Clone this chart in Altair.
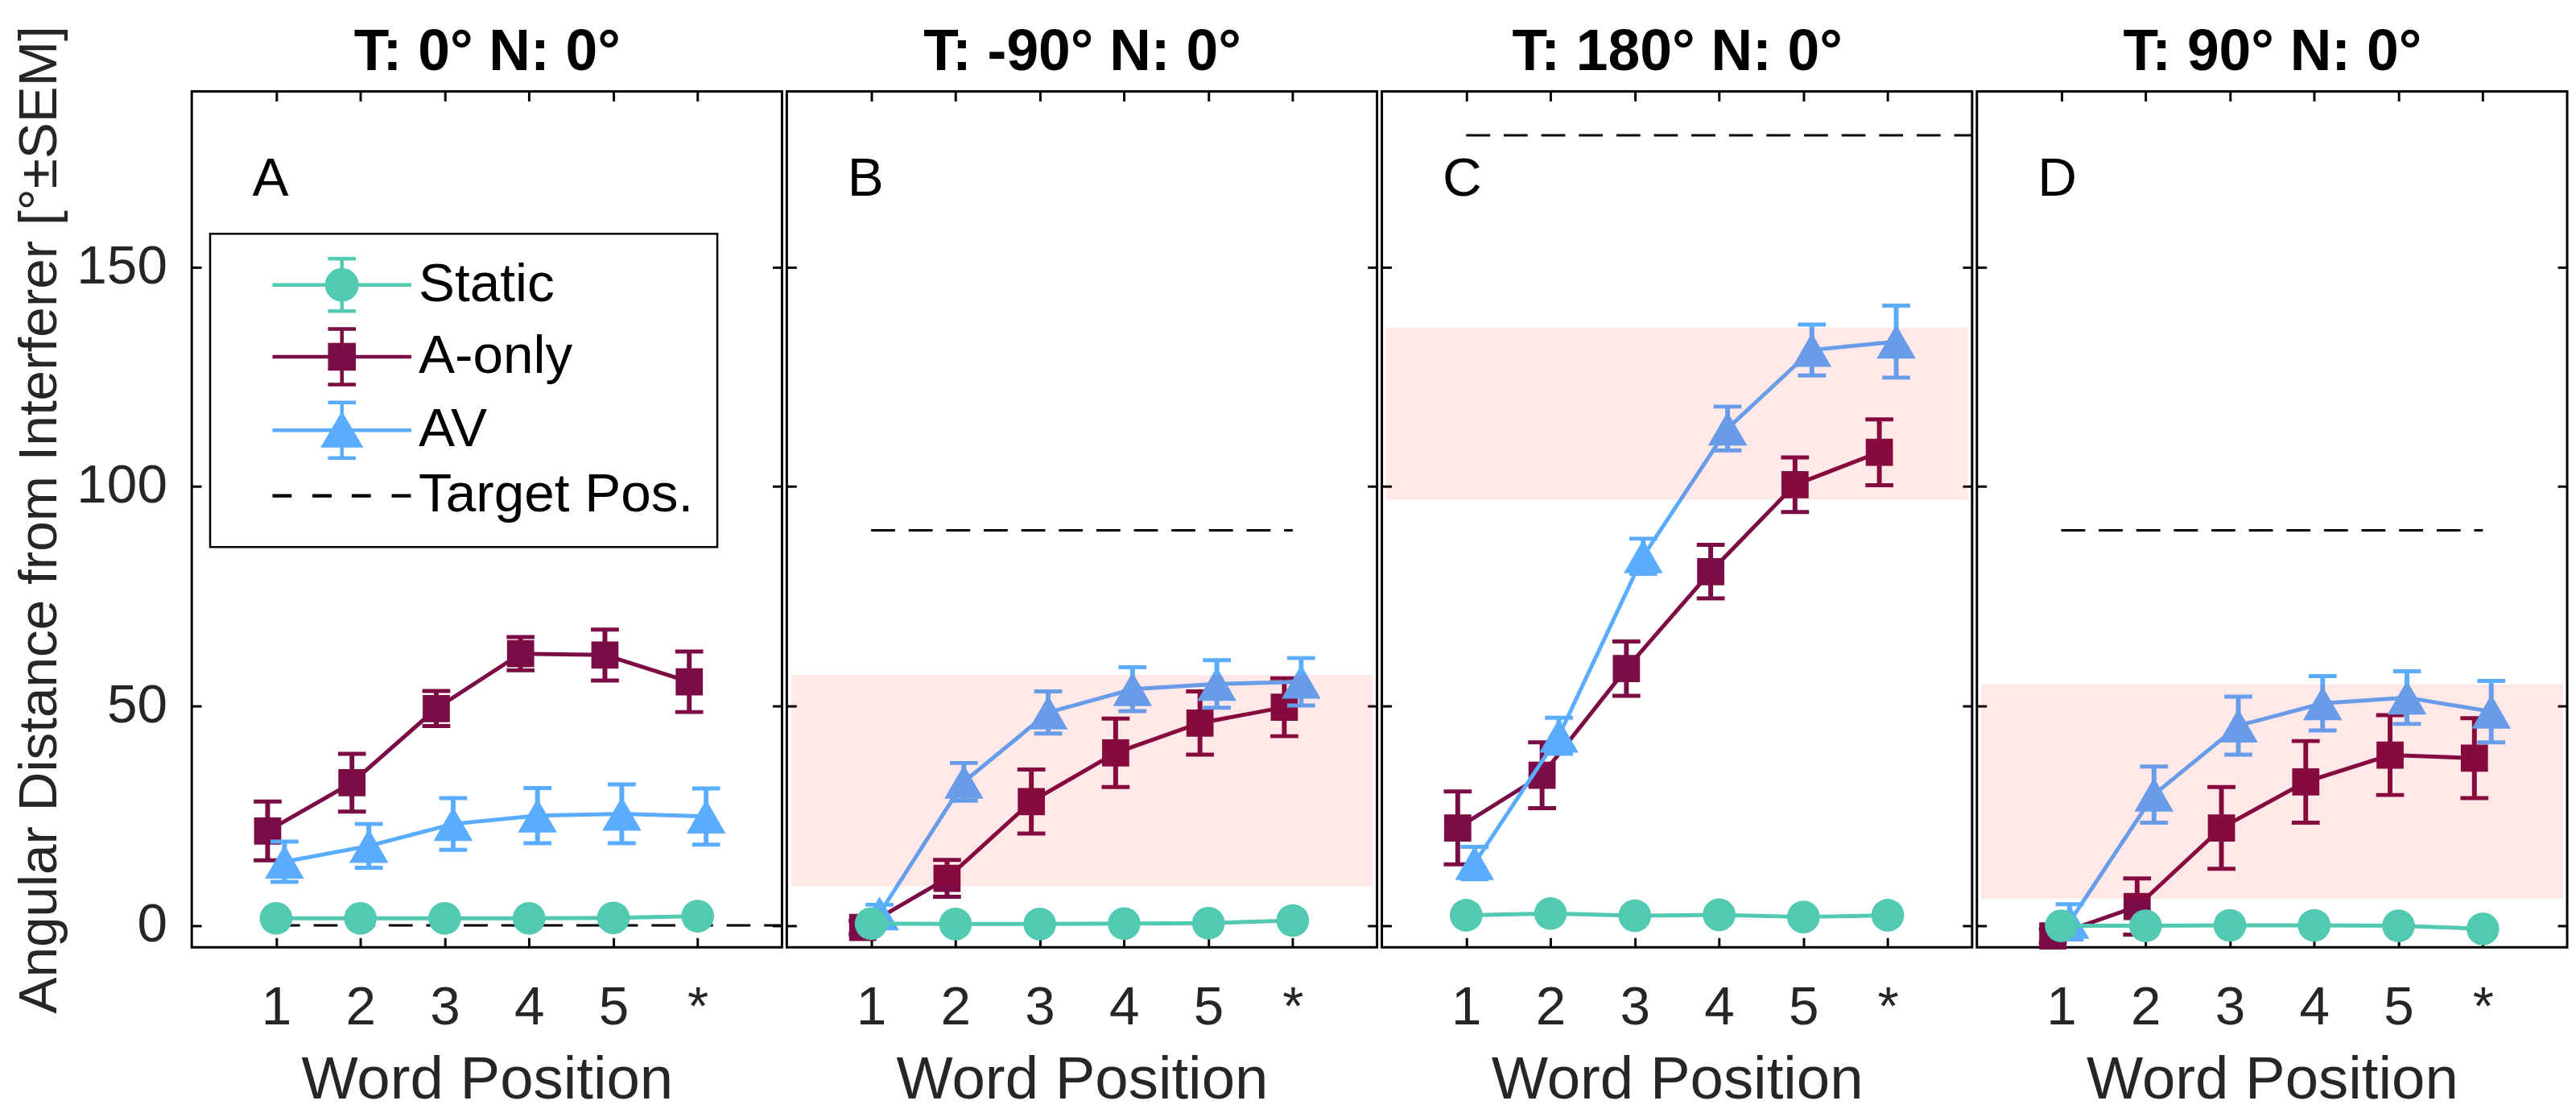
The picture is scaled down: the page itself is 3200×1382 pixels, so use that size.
import altair as alt
import pandas as pd

# DATA ------------------------------------------------------------------------
positions = [1, 2, 3, 4, 5, 6]
tick_labels = ["1", "2", "3", "4", "5", "*"]
panels = ["A", "B", "C", "D"]
panel_titles = ["T: 0° N: 0°", "T: -90° N: 0°", "T: 180° N: 0°", "T: 90° N: 0°"]
series_names = ["Static", "A-only", "AV"]
legend_names = ["Static", "A-only", "AV", "Target Pos."]

static_mean = {"A": [1.6, 1.6, 1.6, 1.6, 1.7, 2.1],
               "B": [0.4, 0.3, 0.3, 0.4, 0.5, 1.1],
               "C": [2.3, 2.7, 2.2, 2.4, 1.9, 2.3],
               "D": [-0.1, -0.1, 0.0, 0.0, -0.1, -0.8]}
static_sem = {"A": [0.8, 0.8, 0.8, 0.8, 0.8, 0.9],
              "B": [0.6, 0.6, 0.6, 0.6, 0.6, 0.8],
              "C": [0.8, 0.9, 0.8, 0.8, 0.8, 0.9],
              "D": [0.7, 0.7, 0.7, 0.7, 0.7, 0.9]}
aonly_mean = {"A": [21.5, 32.5, 49.4, 61.9, 61.6, 55.5],
              "B": [-0.5, 10.7, 28.2, 39.3, 46.1, 49.7],
              "C": [22.2, 34.2, 58.5, 80.6, 100.4, 107.8],
              "D": [-2.4, 4.3, 22.2, 32.7, 38.8, 38.1]}
aonly_sem = {"A": [6.7, 6.6, 4.0, 3.8, 5.8, 6.9],
             "B": [1.5, 4.2, 7.3, 7.8, 7.2, 6.6],
             "C": [8.3, 7.5, 6.2, 6.1, 6.2, 7.5],
             "D": [1.5, 6.4, 9.3, 9.3, 9.1, 9.1]}
av_mean = {"A": [14.5, 18.1, 23.1, 25.0, 25.4, 24.8],
           "B": [2.7, 32.7, 48.5, 53.8, 55.0, 55.5],
           "C": [14.2, 43.2, 84.1, 113.2, 131.1, 133.0],
           "D": [0.8, 29.8, 45.5, 50.6, 51.9, 48.7]}
av_sem = {"A": [4.6, 5.0, 5.9, 6.3, 6.7, 6.4],
          "B": [2.0, 4.3, 4.8, 5.0, 5.4, 5.4],
          "C": [3.7, 4.1, 4.0, 5.0, 5.8, 8.2],
          "D": [4.0, 6.4, 6.6, 6.2, 6.0, 7.0]}

target_deg = [0, 90, 180, 90]
target_start = [1, 1, 1, 1]
target_end = [7, 6, 7, 6]

band_low = [None, 8.9, 97.0, 6.0]
band_high = [None, 57.1, 136.2, 54.9]
band_x = [0.05, 6.95]

# STYLE -----------------------------------------------------------------------
FONT = "Liberation Sans, Arial, Helvetica, sans-serif"
TXT = "#262626"
colors = {"Static": "#52C9B2", "A-only": "#7B0C45", "AV": "#5AACFF", "Target Pos.": "#000000"}
shapes = {"Static": "circle", "A-only": "square", "AV": "triangle-up"}
sizes = {"Static": 1681, "A-only": 1156, "AV": 2400}
dodge = {"Static": 0.0, "A-only": -0.1, "AV": 0.1}
draw_order = ["A-only", "AV", "Static"]

PW, PH = 739, 1071
TICK = 12


def legend_path(marker, eb):
    return (marker + " M-4.24,0L4.24,0 M0,-%s L0,%s M-0.85,-%s L0.85,-%s M-0.85,%s L0.85,%s"
            % (eb, eb, eb, eb, eb, eb))


legend_shapes = [
    legend_path("M0.92,0A0.92,0.92,0,1,1,-0.92,0A0.92,0.92,0,1,1,0.92,0Z", 1.6),
    legend_path("M-0.74,-0.74L0.74,-0.74L0.74,0.74L-0.74,0.74Z", 1.7),
    legend_path("M0,-0.95L1.12,0.95L-1.12,0.95Z", 1.7),
    "M-4.24,0L-3.07,0M-1.8,0L-0.63,0M0.6,0L1.77,0M3.04,0L4.21,0",
]

# TABLES ----------------------------------------------------------------------
rows = []
for p in panels:
    for name, mm, ss in [("Static", static_mean, static_sem),
                         ("A-only", aonly_mean, aonly_sem),
                         ("AV", av_mean, av_sem)]:
        for pos, m, s in zip(positions, mm[p], ss[p]):
            rows.append({"panel": p, "Series": name, "pos": pos,
                         "mean": m, "lo": m - s, "hi": m + s})
pts = pd.DataFrame(rows)

targets = pd.DataFrame({"panel": panels, "Series": "Target Pos.",
                        "x0": target_start, "x1": target_end, "y": target_deg})

color_scale = alt.Scale(domain=legend_names, range=[colors[n] for n in legend_names])
labels_js = "[" + ",".join("'%s'" % t for t in tick_labels) + "]"


def tick_axis(orient, **kw):
    opts = dict(orient=orient, domain=False, grid=False, offset=-TICK, tickSize=TICK,
                tickWidth=3, tickColor="black", labelFont=FONT, labelFontSize=68,
                labelColor=TXT, titleFont=FONT, titleColor=TXT, titleFontWeight="normal")
    opts.update(kw)
    return alt.Axis(**opts)


def make_panel(i):
    p = panels[i]
    first = i == 0
    xs = alt.Scale(domain=[0, 7], nice=False, zero=False)
    ys = alt.Scale(domain=[-5, 190], nice=False, zero=False)
    d = pts[pts.panel == p]

    bottom = tick_axis("bottom", values=positions, labelExpr=labels_js + "[datum.value - 1]",
                       labelPadding=42, title="Word Position", titleFontSize=75, titlePadding=20)
    if first:
        left = tick_axis("left", values=[0, 50, 100, 150], labelPadding=31,
                         title="Angular Distance from Interferer [°±SEM]",
                         titleFontSize=68, titlePadding=12)
    else:
        left = tick_axis("left", values=[0, 50, 100, 150], labels=False, title=None)
    # the panel heading rides on the (tick-only) top axis
    top = tick_axis("top", values=positions, labels=False, title=panel_titles[i],
                    titleFontSize=72, titleFontWeight="bold", titleColor="black", titlePadding=11)
    right = tick_axis("right", values=[0, 50, 100, 150], labels=False, title=None)

    layers = []
    # target position (carries bottom / left axes)
    layers.append(
        alt.Chart(targets[targets.panel == p])
        .mark_rule(strokeDash=[30, 17], strokeWidth=3, color="black")
        .encode(x=alt.X("x0:Q", scale=xs, axis=bottom), x2="x1:Q",
                y=alt.Y("y:Q", scale=ys, axis=left))
    )

    col = alt.Color("Series:N", scale=color_scale, legend=None)
    for name in draw_order:
        base = (alt.Chart(d).transform_filter(alt.datum.Series == name)
                .transform_calculate(xpos="datum.pos + (%s)" % dodge[name]))
        x = alt.X("xpos:Q", scale=xs, axis=None)
        layers.append(base.mark_line(strokeWidth=5).encode(
            x=x, y=alt.Y("mean:Q", scale=ys, axis=None), color=col))
        layers.append(base.mark_rule(strokeWidth=6).encode(
            x=x, y=alt.Y("lo:Q", scale=ys, axis=None), y2="hi:Q", color=col))
        layers.append(base.transform_fold(["lo", "hi"], as_=["end", "v"])
                      .mark_tick(orient="horizontal", size=35, thickness=5, opacity=1)
                      .encode(x=x, y=alt.Y("v:Q", scale=ys, axis=None), color=col))
        if name == "Static":
            px = alt.X("xpos:Q", scale=xs, axis=top)
            py = alt.Y("mean:Q", scale=ys, axis=right)
        else:
            px = x
            py = alt.Y("mean:Q", scale=ys, axis=None)
        layers.append(base.mark_point(filled=True, opacity=1, size=sizes[name],
                                      shape=shapes[name]).encode(x=px, y=py, color=col))

    # shaded band (translucent red laid on top, as in the original)
    if band_low[i] is not None:
        band = pd.DataFrame({"bx0": [band_x[0]], "bx1": [band_x[1]],
                             "blo": [band_low[i]], "bhi": [band_high[i]]})
        layers.append(alt.Chart(band).mark_rect(color="#FF0000", opacity=0.09).encode(
            x=alt.X("bx0:Q", scale=xs, axis=None), x2="bx1:Q",
            y=alt.Y("blo:Q", scale=ys, axis=None), y2="bhi:Q"))

    # panel letter
    layers.append(alt.Chart(pd.DataFrame({"letter": [p]}))
                  .mark_text(align="left", baseline="middle", fontSize=68, font=FONT, color="black")
                  .encode(text="letter:N", x=alt.value(76), y=alt.value(110)))

    if first:
        leg = alt.Legend(title=None, orient="none", legendX=23, legendY=178,
                         labelFont=FONT, labelFontSize=68, labelColor="black", labelLimit=1000,
                         symbolSize=1681, symbolStrokeWidth=4.5, symbolOpacity=1,
                         symbolOffset=101, labelOffset=62, padding=30, rowPadding=4,
                         strokeColor="black", fillColor="white", cornerRadius=0)
        leg_df = pd.concat([
            d[["Series", "pos", "mean"]],
            targets[targets.panel == p].rename(columns={"x0": "pos", "y": "mean"})[["Series", "pos", "mean"]],
        ])
        leg_range = [colors[n] for n in legend_names]
        layers.append(alt.Chart(leg_df).mark_point(size=0).encode(
            x=alt.X("pos:Q", scale=xs, axis=None),
            y=alt.Y("mean:Q", scale=ys, axis=None),
            fill=alt.Fill("Series:N", scale=alt.Scale(domain=legend_names, range=leg_range), legend=leg),
            stroke=alt.Stroke("Series:N", scale=alt.Scale(domain=legend_names, range=leg_range), legend=leg),
            shape=alt.Shape("Series:N", scale=alt.Scale(domain=legend_names, range=legend_shapes), legend=leg)))

    return (alt.layer(*layers)
            .resolve_axis(x="independent", y="independent")
            .properties(width=PW, height=PH))


chart = (alt.hconcat(*[make_panel(i) for i in range(4)], spacing=0)
         .resolve_scale(fill="independent", stroke="independent", shape="independent")
         .properties(padding={"left": 6, "top": 14, "right": 0, "bottom": 0})
         .configure(font=FONT)
         .configure_view(stroke="black", strokeWidth=3)
         .configure_legend(strokeWidth=2.5))

chart.save("out.html", embed_options={"renderer": "svg", "actions": False})
